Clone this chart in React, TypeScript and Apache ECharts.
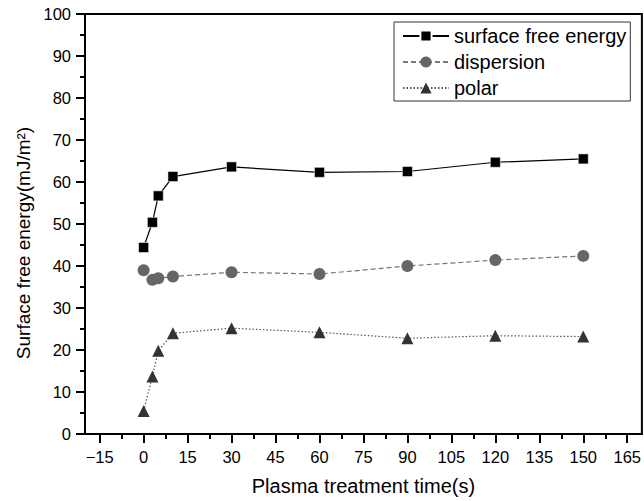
import React, { useEffect, useRef } from "react";
import * as echarts from "echarts";

const times = [0, 3, 5, 10, 30, 60, 90, 120, 150];
const surfaceFreeEnergy = [44.4, 50.4, 56.7, 61.3, 63.6, 62.3, 62.5, 64.7, 65.5];
const dispersion = [39.0, 36.7, 37.1, 37.5, 38.5, 38.1, 40.0, 41.4, 42.4];
const polar = [5.5, 13.7, 19.8, 24.0, 25.2, 24.2, 22.8, 23.4, 23.2];
const xMajorTicks = [-15, 0, 15, 30, 45, 60, 75, 90, 105, 120, 135, 150, 165];
const xMinorTicks = [-7.5, 7.5, 22.5, 37.5, 52.5, 67.5, 82.5, 97.5, 112.5, 127.5, 142.5, 157.5];
const seriesNames = ["surface free energy", "dispersion", "polar"];

const FONT = "Liberation Sans, Arial, sans-serif";

const pairs = (ys: number[]) => times.map((t, i) => [t, ys[i]]);

export default function App() {
  const ref = useRef<HTMLDivElement>(null);
  useEffect(() => {
    if (!ref.current) return;
    const chart = echarts.init(ref.current, null, { renderer: "svg" });
    chart.setOption({
      animation: false,
      backgroundColor: "#fff",
      textStyle: { fontFamily: FONT },
      grid: {
        left: 85,
        right: 2,
        top: 14,
        bottom: 66,
        show: true,
        borderColor: "#000",
        borderWidth: 2,
        backgroundColor: "transparent",
      },
      legend: {
        orient: "vertical",
        left: 394,
        top: 22,
        borderColor: "#333",
        borderWidth: 1,
        padding: [4, 4, 3, 8],
        itemGap: 6,
        itemWidth: 46,
        itemHeight: 14,
        textStyle: { fontSize: 20, lineHeight: 20, color: "#000", fontFamily: FONT },
        data: seriesNames,
      },
      xAxis: [
        {
          type: "value",
          min: -20,
          max: 170,
          position: "bottom",
          splitLine: { show: false },
          axisLine: { onZero: false, lineStyle: { color: "#000", width: 2 } },
          axisTick: {
            customValues: xMajorTicks,
            length: 9,
            lineStyle: { color: "#000", width: 2 },
          },
          axisLabel: {
            customValues: xMajorTicks,
            margin: 14,
            fontSize: 16.5,
            color: "#000",
            fontFamily: FONT,
            formatter: (v: number) => (v < 0 ? "\u2212" + Math.abs(v) : String(v)),
          },
          name: "Plasma treatment time(s)",
          nameLocation: "middle",
          nameGap: 42,
          nameTextStyle: { fontSize: 20, color: "#000", fontFamily: FONT },
        },
        {
          type: "value",
          min: -20,
          max: 170,
          position: "bottom",
          splitLine: { show: false },
          axisLine: { show: false, onZero: false },
          axisTick: {
            customValues: xMinorTicks,
            length: 5,
            lineStyle: { color: "#000", width: 2 },
          },
          axisLabel: { show: false },
        },
      ],
      yAxis: {
        type: "value",
        min: 0,
        max: 100,
        interval: 10,
        position: "left",
        splitLine: { show: false },
        axisLine: { show: true, onZero: false, lineStyle: { color: "#000", width: 2 } },
        axisTick: { show: true, length: 9, lineStyle: { color: "#000", width: 2 } },
        minorTick: { show: true, splitNumber: 2, length: 5, lineStyle: { color: "#000", width: 2 } },
        axisLabel: { margin: 14, fontSize: 16.5, color: "#000", fontFamily: FONT },
      },
      graphic: [
        {
          type: "text",
          x: 23,
          y: 243,
          rotation: Math.PI / 2,
          style: {
            text: "Surface free energy(mJ/m\u00b2)",
            fontSize: 19,
            fontFamily: FONT,
            fill: "#000",
            align: "center",
            verticalAlign: "middle",
          },
        },
      ],
      series: [
        {
          name: seriesNames[0],
          type: "line",
          xAxisIndex: 0,
          data: pairs(surfaceFreeEnergy),
          symbol: "rect",
          symbolSize: 10,
          itemStyle: { color: "#000", borderColor: "#fff", borderWidth: 0.5 },
          lineStyle: { color: "#000", width: 1.2, type: "solid" },
        },
        {
          name: seriesNames[1],
          type: "line",
          xAxisIndex: 0,
          data: pairs(dispersion),
          symbol: "circle",
          symbolSize: 12,
          itemStyle: { color: "#666" },
          lineStyle: { color: "#777", width: 1.2, type: [5, 3] },
        },
        {
          name: seriesNames[2],
          type: "line",
          xAxisIndex: 0,
          data: pairs(polar),
          symbol: "triangle",
          symbolSize: 12,
          itemStyle: { color: "#333" },
          lineStyle: { color: "#555", width: 1.2, type: [1.5, 2] },
        },
      ],
    });
    return () => chart.dispose();
  }, []);
  return (
    <div
      ref={ref}
      style={{ position: "fixed", left: 0, top: 0, width: 644, height: 501 }}
    />
  );
}
